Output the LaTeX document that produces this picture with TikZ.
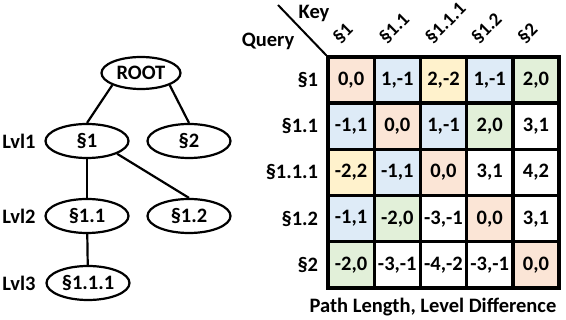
\documentclass[tikz,border=0pt]{standalone}
\usepackage{fontspec}
\setmainfont{Carlito}
\usetikzlibrary{positioning,calc,shapes.geometric}

\definecolor{peach}{HTML}{FBE5D6}
\definecolor{paleblue}{HTML}{DEEBF7}
\definecolor{paleyellow}{HTML}{FFF2CC}
\definecolor{palegreen}{HTML}{E2F0D9}

\tikzset{
  sec/.style = {draw, ellipse, line width = 2.2pt, minimum width = 83pt, minimum height = 34pt, inner sep = 0pt},
  cell/.style = {draw, line width = 3.4pt, minimum size = 46.2pt, inner sep = 0pt},
  lbl/.style = {inner sep = 0pt},
  link/.style = {line width = 2.2pt}
}

\begin{document}
\begin{tikzpicture}[x = 1pt, y = -1pt, font = \fontsize{20.5}{24}\selectfont\bfseries]
\useasboundingbox (0,0) rectangle (566,320);
% tree
\node[sec, minimum width = 79pt, minimum height = 32pt] (root) at (141,73) {ROOT};
\node[sec] (s1) at (87,141) {§1};
\node[sec] (s2) at (189,141) {§2};
\node[sec] (s11) at (87,216) {§1.1};
\node[sec] (s12) at (189,216) {§1.2};
\node[sec] (s111) at (88,283) {§1.1.1};
\draw[link] (root.south west) -- (s1.north);
\draw[link] (root.south east) -- (s2.north);
\draw[link] (s1) -- (s11);
\draw[link] (s1.south east) -- (s12.north);
\draw[link] (s11) -- (s111);
% levels
\node[lbl] (lvl1) at (19,141) {Lvl1};
\node[lbl] (lvl2) at (19,216) {Lvl2};
\node[lbl] (lvl3) at (19,283) {Lvl3};
% matrix cells
\foreach \txt/\col [count = \j] in {{0,0}/peach, {1,-1}/paleblue, {2,-2}/paleyellow, {1,-1}/paleblue, {2,0}/palegreen}
  \node[cell, fill = \col] (c-1-\j) at (328+46.2*\j-23.1, 80.1) {\txt};
\foreach \txt/\col [count = \j] in {{-1,1}/paleblue, {0,0}/peach, {1,-1}/paleblue, {2,0}/palegreen, {3,1}/white}
  \node[cell, fill = \col] (c-2-\j) at (328+46.2*\j-23.1, 126.3) {\txt};
\foreach \txt/\col [count = \j] in {{-2,2}/paleyellow, {-1,1}/paleblue, {0,0}/peach, {3,1}/white, {4,2}/white}
  \node[cell, fill = \col] (c-3-\j) at (328+46.2*\j-23.1, 172.5) {\txt};
\foreach \txt/\col [count = \j] in {{-1,1}/paleblue, {-2,0}/palegreen, {-3,-1}/white, {0,0}/peach, {3,1}/white}
  \node[cell, fill = \col] (c-4-\j) at (328+46.2*\j-23.1, 218.7) {\txt};
\foreach \txt/\col [count = \j] in {{-2,0}/palegreen, {-3,-1}/white, {-4,-2}/white, {-3,-1}/white, {0,0}/peach}
  \node[cell, fill = \col] (c-5-\j) at (328+46.2*\j-23.1, 264.9) {\txt};
% query labels
\foreach \txt [count = \i] in {§1, §1.1, §1.1.1, §1.2, §2}
  \node[lbl, anchor = east, left = 8pt of c-\i-1] (q-\i) {\txt};
% key labels
\foreach \txt [count = \j] in {§1, §1.1, §1.1.1, §1.2, §2}
  \node[lbl, anchor = south west, rotate = 45, font = \fontsize{19}{22}\selectfont\bfseries] (k-\j) at ($(c-1-\j.north)+(-10,-10)$) {\txt};
% corner
\coordinate (tip) at (278,5);
\draw[line width = 2pt] (tip) -- (c-1-1.north west);
\node[lbl] (key) at (314,13) {Key};
\node[lbl] (query) at (268,41) {Query};
\node[lbl] (caption) at (433,307) {Path Length, Level Difference};
\end{tikzpicture}
\end{document}
